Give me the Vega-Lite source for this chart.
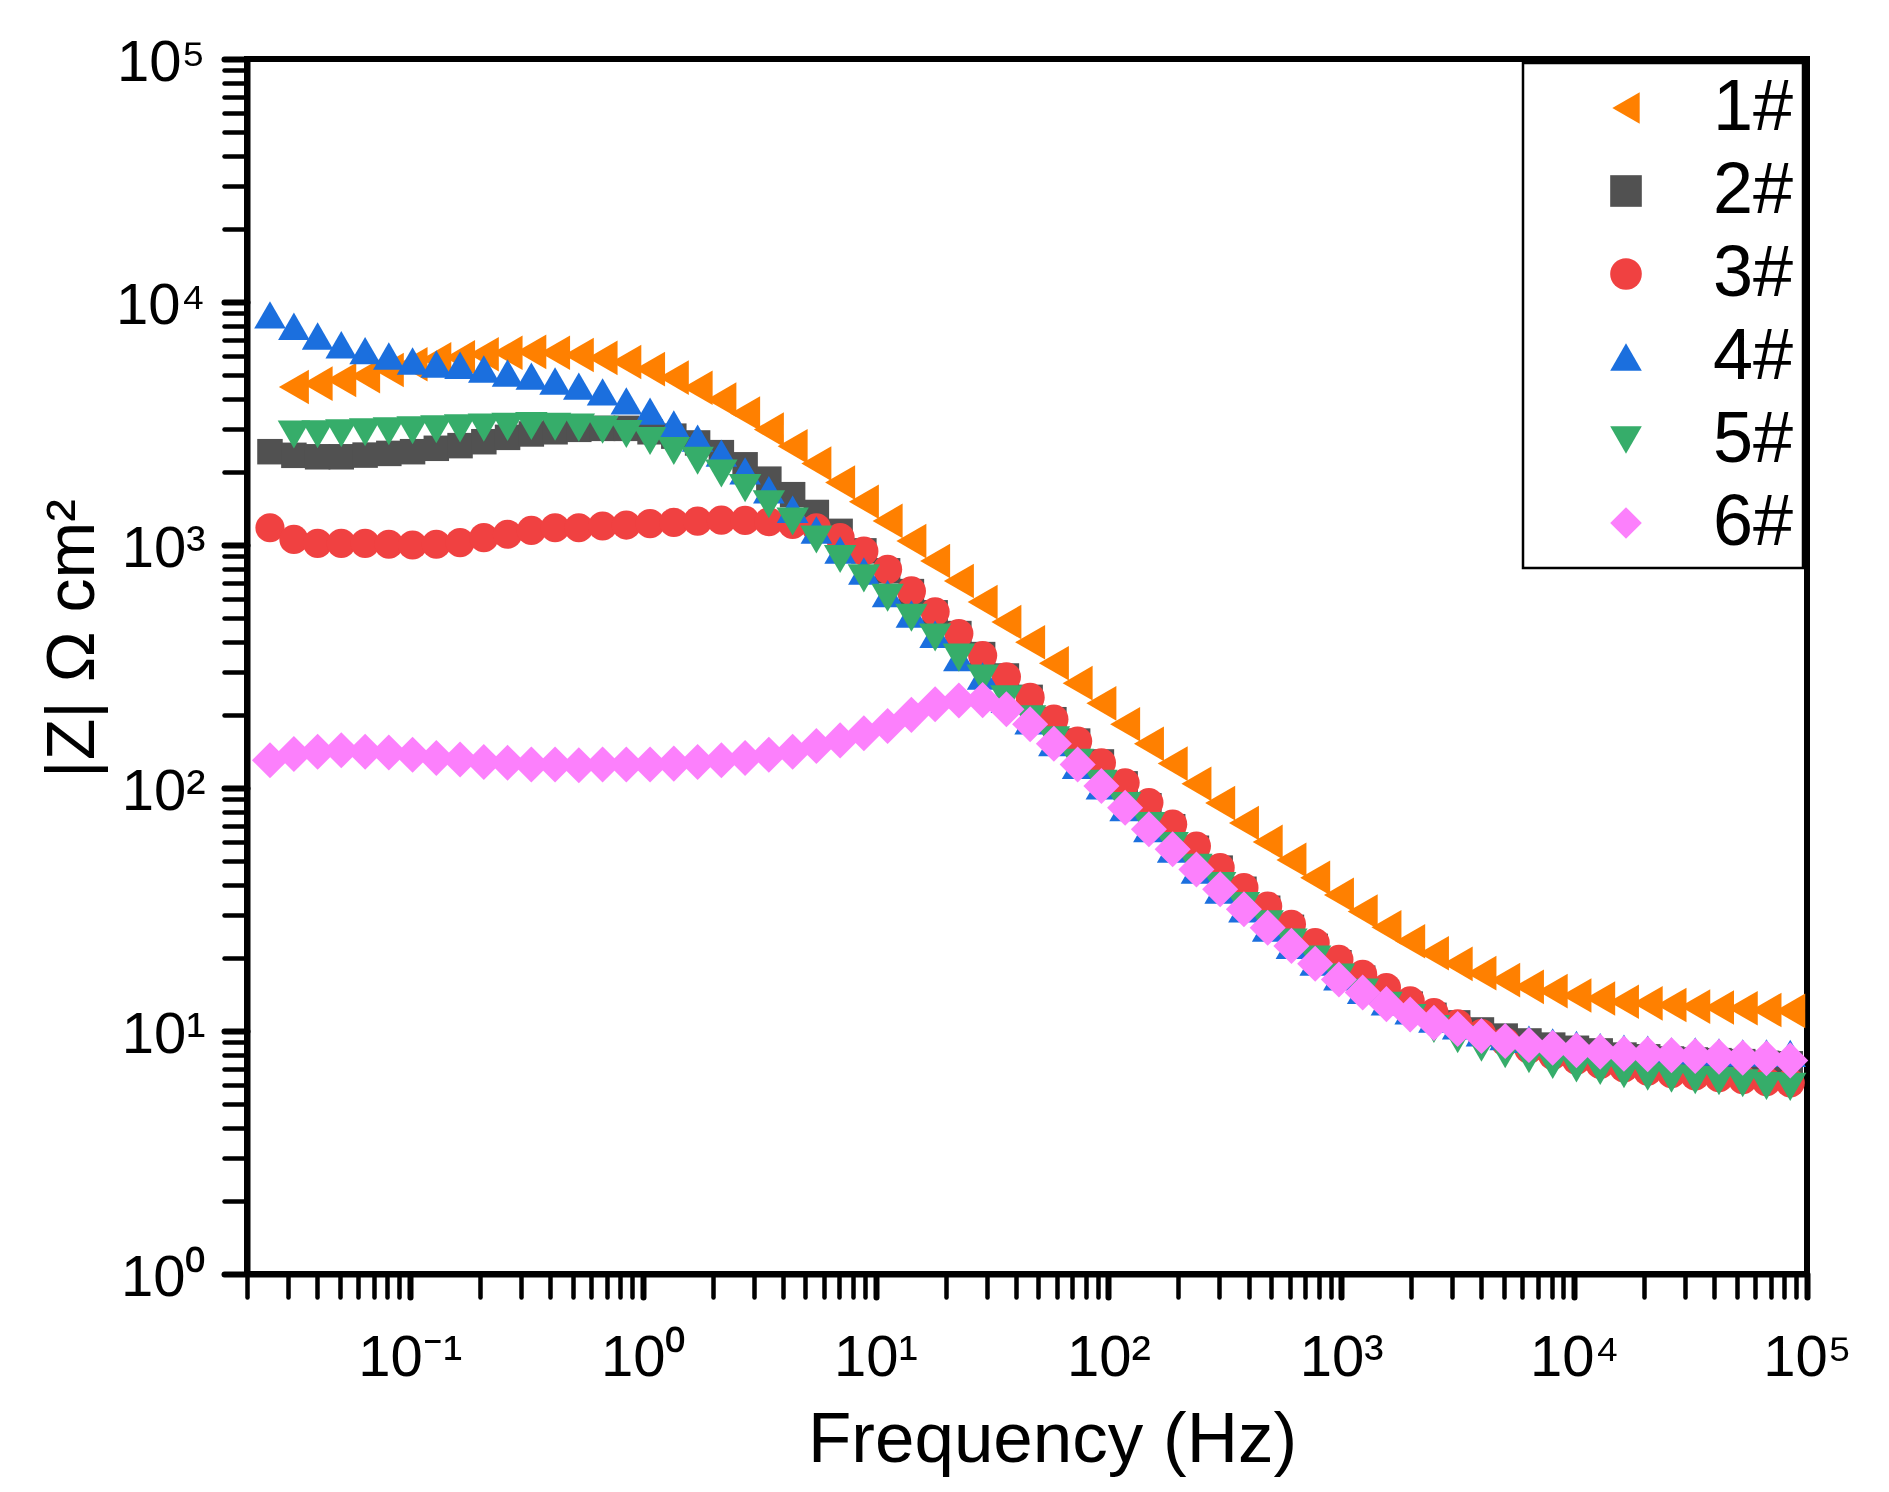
{
  "$schema": "https://vega.github.io/schema/vega-lite/v6.json",
  "width": 1560,
  "height": 1215,
  "autosize": {"type": "none"},
  "padding": {"left": 247, "top": 59, "right": 82, "bottom": 218},
  "background": "white",
  "config": {
    "font": "Liberation Sans",
    "view": {"stroke": "black", "strokeWidth": 6},
    "axis": {
      "grid": false,
      "domainColor": "black",
      "domainWidth": 6,
      "tickColor": "black",
      "tickCap": "round",
      "labelColor": "black",
      "titleColor": "black",
      "labelFont": "Liberation Sans",
      "titleFont": "Liberation Sans",
      "titleFontWeight": "normal",
      "labelOverlap": false,
      "labelBound": false,
      "labelFlush": false
    },
    "legend": {"strokeWidth": 2.5}
  },
  "data": {
    "values": [
      {"f":0.0318,"z":4467,"s":"1#"},{"f":0.0402,"z":4613,"s":"1#"},{"f":0.0508,"z":4775,"s":"1#"},{"f":0.0643,"z":4955,"s":"1#"},{"f":0.0813,"z":5248,"s":"1#"},{"f":0.1028,"z":5546,"s":"1#"},{"f":0.130,"z":5808,"s":"1#"},{"f":0.1644,"z":5916,"s":"1#"},{"f":0.208,"z":6095,"s":"1#"},{"f":0.263,"z":6180,"s":"1#"},{"f":0.3327,"z":6237,"s":"1#"},{"f":0.4207,"z":6180,"s":"1#"},{"f":0.532,"z":6053,"s":"1#"},{"f":0.673,"z":5888,"s":"1#"},{"f":0.851,"z":5662,"s":"1#"},{"f":1.076,"z":5297,"s":"1#"},{"f":1.361,"z":4887,"s":"1#"},{"f":1.722,"z":4436,"s":"1#"},{"f":2.178,"z":3963,"s":"1#"},{"f":2.754,"z":3475,"s":"1#"},{"f":3.483,"z":2985,"s":"1#"},{"f":4.406,"z":2547,"s":"1#"},{"f":5.572,"z":2163,"s":"1#"},{"f":7.047,"z":1807,"s":"1#"},{"f":8.913,"z":1507,"s":"1#"},{"f":11.27,"z":1256,"s":"1#"},{"f":14.26,"z":1038,"s":"1#"},{"f":18.03,"z":859,"s":"1#"},{"f":22.8,"z":711,"s":"1#"},{"f":28.84,"z":582,"s":"1#"},{"f":36.48,"z":482,"s":"1#"},{"f":46.13,"z":398,"s":"1#"},{"f":58.34,"z":326,"s":"1#"},{"f":73.79,"z":270,"s":"1#"},{"f":93.33,"z":223,"s":"1#"},{"f":118,"z":183,"s":"1#"},{"f":149.3,"z":152,"s":"1#"},{"f":188.8,"z":126,"s":"1#"},{"f":238.8,"z":104,"s":"1#"},{"f":302,"z":86.7,"s":"1#"},{"f":382,"z":71.8,"s":"1#"},{"f":483.1,"z":60.0,"s":"1#"},{"f":611,"z":50.6,"s":"1#"},{"f":772.7,"z":42.7,"s":"1#"},{"f":977.2,"z":36.3,"s":"1#"},{"f":1236,"z":31.0,"s":"1#"},{"f":1563,"z":26.7,"s":"1#"},{"f":1977,"z":23.4,"s":"1#"},{"f":2500,"z":20.9,"s":"1#"},{"f":3162,"z":18.9,"s":"1#"},{"f":3999,"z":17.3,"s":"1#"},{"f":5058,"z":16.2,"s":"1#"},{"f":6397,"z":15.2,"s":"1#"},{"f":8091,"z":14.6,"s":"1#"},{"f":10233,"z":14.0,"s":"1#"},{"f":12942,"z":13.6,"s":"1#"},{"f":16368,"z":13.2,"s":"1#"},{"f":20701,"z":13.0,"s":"1#"},{"f":26182,"z":12.8,"s":"1#"},{"f":33113,"z":12.6,"s":"1#"},{"f":41879,"z":12.5,"s":"1#"},{"f":52966,"z":12.4,"s":"1#"},{"f":66988,"z":12.2,"s":"1#"},{"f":84723,"z":12.1,"s":"1#"},
      {"f":0.0251,"z":2421,"s":"2#"},{"f":0.0318,"z":2339,"s":"2#"},{"f":0.0402,"z":2307,"s":"2#"},{"f":0.0508,"z":2307,"s":"2#"},{"f":0.0643,"z":2344,"s":"2#"},{"f":0.0813,"z":2382,"s":"2#"},{"f":0.1028,"z":2421,"s":"2#"},{"f":0.130,"z":2500,"s":"2#"},{"f":0.1644,"z":2564,"s":"2#"},{"f":0.208,"z":2661,"s":"2#"},{"f":0.263,"z":2773,"s":"2#"},{"f":0.3327,"z":2864,"s":"2#"},{"f":0.4207,"z":2924,"s":"2#"},{"f":0.532,"z":2992,"s":"2#"},{"f":0.673,"z":3020,"s":"2#"},{"f":0.851,"z":3020,"s":"2#"},{"f":1.076,"z":2924,"s":"2#"},{"f":1.361,"z":2805,"s":"2#"},{"f":1.722,"z":2630,"s":"2#"},{"f":2.178,"z":2399,"s":"2#"},{"f":2.754,"z":2138,"s":"2#"},{"f":3.483,"z":1866,"s":"2#"},{"f":4.406,"z":1611,"s":"2#"},{"f":5.572,"z":1361,"s":"2#"},{"f":7.047,"z":1138,"s":"2#"},{"f":8.913,"z":946,"s":"2#"},{"f":11.27,"z":783,"s":"2#"},{"f":14.26,"z":643,"s":"2#"},{"f":18.03,"z":526,"s":"2#"},{"f":22.8,"z":432,"s":"2#"},{"f":28.84,"z":354,"s":"2#"},{"f":36.48,"z":289,"s":"2#"},{"f":46.13,"z":236,"s":"2#"},{"f":58.34,"z":191,"s":"2#"},{"f":73.79,"z":156,"s":"2#"},{"f":93.33,"z":128,"s":"2#"},{"f":118,"z":104,"s":"2#"},{"f":149.3,"z":84.5,"s":"2#"},{"f":188.8,"z":69.3,"s":"2#"},{"f":238.8,"z":56.5,"s":"2#"},{"f":302,"z":46.8,"s":"2#"},{"f":382,"z":38.3,"s":"2#"},{"f":483.1,"z":32.0,"s":"2#"},{"f":611,"z":26.7,"s":"2#"},{"f":772.7,"z":22.3,"s":"2#"},{"f":977.2,"z":19.1,"s":"2#"},{"f":1236,"z":16.5,"s":"2#"},{"f":1563,"z":14.4,"s":"2#"},{"f":1977,"z":12.9,"s":"2#"},{"f":2500,"z":11.6,"s":"2#"},{"f":3162,"z":10.8,"s":"2#"},{"f":3999,"z":10.1,"s":"2#"},{"f":5058,"z":9.53,"s":"2#"},{"f":6397,"z":9.10,"s":"2#"},{"f":8091,"z":8.75,"s":"2#"},{"f":10233,"z":8.49,"s":"2#"},{"f":12942,"z":8.28,"s":"2#"},{"f":16368,"z":7.96,"s":"2#"},{"f":20701,"z":7.83,"s":"2#"},{"f":26182,"z":7.67,"s":"2#"},{"f":33113,"z":7.60,"s":"2#"},{"f":41879,"z":7.55,"s":"2#"},{"f":52966,"z":7.48,"s":"2#"},{"f":66988,"z":7.36,"s":"2#"},{"f":84723,"z":7.33,"s":"2#"},
      {"f":0.0251,"z":1178,"s":"3#"},{"f":0.0318,"z":1054,"s":"3#"},{"f":0.0402,"z":1016,"s":"3#"},{"f":0.0508,"z":1016,"s":"3#"},{"f":0.0643,"z":1016,"s":"3#"},{"f":0.0813,"z":1007,"s":"3#"},{"f":0.1028,"z":1000,"s":"3#"},{"f":0.130,"z":1007,"s":"3#"},{"f":0.1644,"z":1023,"s":"3#"},{"f":0.208,"z":1072,"s":"3#"},{"f":0.263,"z":1107,"s":"3#"},{"f":0.3327,"z":1148,"s":"3#"},{"f":0.4207,"z":1178,"s":"3#"},{"f":0.532,"z":1178,"s":"3#"},{"f":0.673,"z":1197,"s":"3#"},{"f":0.851,"z":1208,"s":"3#"},{"f":1.076,"z":1225,"s":"3#"},{"f":1.361,"z":1239,"s":"3#"},{"f":1.722,"z":1253,"s":"3#"},{"f":2.178,"z":1265,"s":"3#"},{"f":2.754,"z":1262,"s":"3#"},{"f":3.483,"z":1247,"s":"3#"},{"f":4.406,"z":1216,"s":"3#"},{"f":5.572,"z":1178,"s":"3#"},{"f":7.047,"z":1072,"s":"3#"},{"f":8.913,"z":944,"s":"3#"},{"f":11.27,"z":794,"s":"3#"},{"f":14.26,"z":647,"s":"3#"},{"f":18.03,"z":531,"s":"3#"},{"f":22.8,"z":432,"s":"3#"},{"f":28.84,"z":351,"s":"3#"},{"f":36.48,"z":287,"s":"3#"},{"f":46.13,"z":236,"s":"3#"},{"f":58.34,"z":192,"s":"3#"},{"f":73.79,"z":156,"s":"3#"},{"f":93.33,"z":127,"s":"3#"},{"f":118,"z":105,"s":"3#"},{"f":149.3,"z":87.1,"s":"3#"},{"f":188.8,"z":71.0,"s":"3#"},{"f":238.8,"z":57.7,"s":"3#"},{"f":302,"z":47.0,"s":"3#"},{"f":382,"z":38.9,"s":"3#"},{"f":483.1,"z":32.7,"s":"3#"},{"f":611,"z":27.5,"s":"3#"},{"f":772.7,"z":23.1,"s":"3#"},{"f":977.2,"z":19.7,"s":"3#"},{"f":1236,"z":17.1,"s":"3#"},{"f":1563,"z":15.1,"s":"3#"},{"f":1977,"z":13.3,"s":"3#"},{"f":2500,"z":11.9,"s":"3#"},{"f":3162,"z":10.7,"s":"3#"},{"f":3999,"z":9.77,"s":"3#"},{"f":5058,"z":9.02,"s":"3#"},{"f":6397,"z":8.41,"s":"3#"},{"f":8091,"z":7.94,"s":"3#"},{"f":10233,"z":7.59,"s":"3#"},{"f":12942,"z":7.28,"s":"3#"},{"f":16368,"z":7.05,"s":"3#"},{"f":20701,"z":6.84,"s":"3#"},{"f":26182,"z":6.68,"s":"3#"},{"f":33113,"z":6.53,"s":"3#"},{"f":41879,"z":6.43,"s":"3#"},{"f":52966,"z":6.31,"s":"3#"},{"f":66988,"z":6.19,"s":"3#"},{"f":84723,"z":6.12,"s":"3#"},
      {"f":0.0251,"z":8851,"s":"4#"},{"f":0.0318,"z":7943,"s":"4#"},{"f":0.0402,"z":7244,"s":"4#"},{"f":0.0508,"z":6668,"s":"4#"},{"f":0.0643,"z":6310,"s":"4#"},{"f":0.0813,"z":5998,"s":"4#"},{"f":0.1028,"z":5715,"s":"4#"},{"f":0.130,"z":5559,"s":"4#"},{"f":0.1644,"z":5495,"s":"4#"},{"f":0.208,"z":5297,"s":"4#"},{"f":0.263,"z":5105,"s":"4#"},{"f":0.3327,"z":4955,"s":"4#"},{"f":0.4207,"z":4732,"s":"4#"},{"f":0.532,"z":4508,"s":"4#"},{"f":0.673,"z":4266,"s":"4#"},{"f":0.851,"z":3917,"s":"4#"},{"f":1.076,"z":3556,"s":"4#"},{"f":1.361,"z":3148,"s":"4#"},{"f":1.722,"z":2754,"s":"4#"},{"f":2.178,"z":2388,"s":"4#"},{"f":2.754,"z":2018,"s":"4#"},{"f":3.483,"z":1687,"s":"4#"},{"f":4.406,"z":1403,"s":"4#"},{"f":5.572,"z":1153,"s":"4#"},{"f":7.047,"z":953,"s":"4#"},{"f":8.913,"z":782,"s":"4#"},{"f":11.27,"z":631,"s":"4#"},{"f":14.26,"z":520,"s":"4#"},{"f":18.03,"z":429,"s":"4#"},{"f":22.8,"z":344,"s":"4#"},{"f":28.84,"z":289,"s":"4#"},{"f":36.48,"z":232,"s":"4#"},{"f":46.13,"z":189,"s":"4#"},{"f":58.34,"z":154,"s":"4#"},{"f":73.79,"z":124,"s":"4#"},{"f":93.33,"z":102,"s":"4#"},{"f":118,"z":83.0,"s":"4#"},{"f":149.3,"z":68.1,"s":"4#"},{"f":188.8,"z":56.1,"s":"4#"},{"f":238.8,"z":45.9,"s":"4#"},{"f":302,"z":38.0,"s":"4#"},{"f":382,"z":31.8,"s":"4#"},{"f":483.1,"z":26.5,"s":"4#"},{"f":611,"z":22.5,"s":"4#"},{"f":772.7,"z":19.2,"s":"4#"},{"f":977.2,"z":16.7,"s":"4#"},{"f":1236,"z":14.7,"s":"4#"},{"f":1563,"z":13.2,"s":"4#"},{"f":1977,"z":12.1,"s":"4#"},{"f":2500,"z":11.2,"s":"4#"},{"f":3162,"z":10.5,"s":"4#"},{"f":3999,"z":9.84,"s":"4#"},{"f":5058,"z":9.48,"s":"4#"},{"f":6397,"z":9.25,"s":"4#"},{"f":8091,"z":9.02,"s":"4#"},{"f":10233,"z":8.81,"s":"4#"},{"f":12942,"z":8.61,"s":"4#"},{"f":16368,"z":8.49,"s":"4#"},{"f":20701,"z":8.41,"s":"4#"},{"f":26182,"z":8.28,"s":"4#"},{"f":33113,"z":8.28,"s":"4#"},{"f":41879,"z":8.20,"s":"4#"},{"f":52966,"z":8.13,"s":"4#"},{"f":66988,"z":8.13,"s":"4#"},{"f":84723,"z":8.09,"s":"4#"},
      {"f":0.0318,"z":2851,"s":"5#"},{"f":0.0402,"z":2858,"s":"5#"},{"f":0.0508,"z":2884,"s":"5#"},{"f":0.0643,"z":2911,"s":"5#"},{"f":0.0813,"z":2938,"s":"5#"},{"f":0.1028,"z":2965,"s":"5#"},{"f":0.130,"z":2992,"s":"5#"},{"f":0.1644,"z":3020,"s":"5#"},{"f":0.208,"z":3041,"s":"5#"},{"f":0.263,"z":3062,"s":"5#"},{"f":0.3327,"z":3090,"s":"5#"},{"f":0.4207,"z":3069,"s":"5#"},{"f":0.532,"z":3041,"s":"5#"},{"f":0.673,"z":2979,"s":"5#"},{"f":0.851,"z":2864,"s":"5#"},{"f":1.076,"z":2679,"s":"5#"},{"f":1.361,"z":2438,"s":"5#"},{"f":1.722,"z":2223,"s":"5#"},{"f":2.178,"z":1968,"s":"5#"},{"f":2.754,"z":1714,"s":"5#"},{"f":3.483,"z":1472,"s":"5#"},{"f":4.406,"z":1250,"s":"5#"},{"f":5.572,"z":1054,"s":"5#"},{"f":7.047,"z":875,"s":"5#"},{"f":8.913,"z":729,"s":"5#"},{"f":11.27,"z":607,"s":"5#"},{"f":14.26,"z":502,"s":"5#"},{"f":18.03,"z":416,"s":"5#"},{"f":22.8,"z":344,"s":"5#"},{"f":28.84,"z":282,"s":"5#"},{"f":36.48,"z":232,"s":"5#"},{"f":46.13,"z":192,"s":"5#"},{"f":58.34,"z":157,"s":"5#"},{"f":73.79,"z":127,"s":"5#"},{"f":93.33,"z":104,"s":"5#"},{"f":118,"z":84.3,"s":"5#"},{"f":149.3,"z":69.8,"s":"5#"},{"f":188.8,"z":57.7,"s":"5#"},{"f":238.8,"z":47.0,"s":"5#"},{"f":302,"z":39.5,"s":"5#"},{"f":382,"z":32.7,"s":"5#"},{"f":483.1,"z":27.5,"s":"5#"},{"f":611,"z":23.1,"s":"5#"},{"f":772.7,"z":19.7,"s":"5#"},{"f":977.2,"z":16.6,"s":"5#"},{"f":1236,"z":14.4,"s":"5#"},{"f":1563,"z":12.7,"s":"5#"},{"f":1977,"z":11.3,"s":"5#"},{"f":2500,"z":10.2,"s":"5#"},{"f":3162,"z":9.25,"s":"5#"},{"f":3999,"z":8.53,"s":"5#"},{"f":5058,"z":8.02,"s":"5#"},{"f":6397,"z":7.66,"s":"5#"},{"f":8091,"z":7.24,"s":"5#"},{"f":10233,"z":7.01,"s":"5#"},{"f":12942,"z":6.84,"s":"5#"},{"f":16368,"z":6.64,"s":"5#"},{"f":20701,"z":6.49,"s":"5#"},{"f":26182,"z":6.37,"s":"5#"},{"f":33113,"z":6.28,"s":"5#"},{"f":41879,"z":6.22,"s":"5#"},{"f":52966,"z":6.10,"s":"5#"},{"f":66988,"z":5.94,"s":"5#"},{"f":84723,"z":5.89,"s":"5#"},
      {"f":0.0251,"z":130,"s":"6#"},{"f":0.0318,"z":138,"s":"6#"},{"f":0.0402,"z":141,"s":"6#"},{"f":0.0508,"z":143,"s":"6#"},{"f":0.0643,"z":141,"s":"6#"},{"f":0.0813,"z":140,"s":"6#"},{"f":0.1028,"z":137,"s":"6#"},{"f":0.130,"z":133,"s":"6#"},{"f":0.1644,"z":131,"s":"6#"},{"f":0.208,"z":128,"s":"6#"},{"f":0.263,"z":127,"s":"6#"},{"f":0.3327,"z":125,"s":"6#"},{"f":0.4207,"z":125,"s":"6#"},{"f":0.532,"z":124,"s":"6#"},{"f":0.673,"z":125,"s":"6#"},{"f":0.851,"z":125,"s":"6#"},{"f":1.076,"z":125,"s":"6#"},{"f":1.361,"z":126,"s":"6#"},{"f":1.722,"z":128,"s":"6#"},{"f":2.178,"z":130,"s":"6#"},{"f":2.754,"z":133,"s":"6#"},{"f":3.483,"z":137,"s":"6#"},{"f":4.406,"z":141,"s":"6#"},{"f":5.572,"z":149,"s":"6#"},{"f":7.047,"z":157,"s":"6#"},{"f":8.913,"z":168,"s":"6#"},{"f":11.27,"z":180,"s":"6#"},{"f":14.26,"z":200,"s":"6#"},{"f":18.03,"z":221,"s":"6#"},{"f":22.8,"z":229,"s":"6#"},{"f":28.84,"z":230,"s":"6#"},{"f":36.48,"z":211,"s":"6#"},{"f":46.13,"z":183,"s":"6#"},{"f":58.34,"z":152,"s":"6#"},{"f":73.79,"z":125,"s":"6#"},{"f":93.33,"z":102,"s":"6#"},{"f":118,"z":83.0,"s":"6#"},{"f":149.3,"z":67.6,"s":"6#"},{"f":188.8,"z":56.0,"s":"6#"},{"f":238.8,"z":46.2,"s":"6#"},{"f":302,"z":38.3,"s":"6#"},{"f":382,"z":31.7,"s":"6#"},{"f":483.1,"z":26.6,"s":"6#"},{"f":611,"z":22.4,"s":"6#"},{"f":772.7,"z":18.9,"s":"6#"},{"f":977.2,"z":16.3,"s":"6#"},{"f":1236,"z":14.4,"s":"6#"},{"f":1563,"z":12.9,"s":"6#"},{"f":1977,"z":11.7,"s":"6#"},{"f":2500,"z":10.8,"s":"6#"},{"f":3162,"z":10.2,"s":"6#"},{"f":3999,"z":9.53,"s":"6#"},{"f":5058,"z":9.10,"s":"6#"},{"f":6397,"z":8.75,"s":"6#"},{"f":8091,"z":8.53,"s":"6#"},{"f":10233,"z":8.34,"s":"6#"},{"f":12942,"z":8.22,"s":"6#"},{"f":16368,"z":8.07,"s":"6#"},{"f":20701,"z":8.02,"s":"6#"},{"f":26182,"z":7.94,"s":"6#"},{"f":33113,"z":7.89,"s":"6#"},{"f":41879,"z":7.83,"s":"6#"},{"f":52966,"z":7.76,"s":"6#"},{"f":66988,"z":7.73,"s":"6#"},{"f":84723,"z":7.57,"s":"6#"}
    ]
  },
  "encoding": {
    "x": {
      "field": "f",
      "type": "quantitative",
      "scale": {"type": "log", "domain": [0.02, 100000], "nice": false},
      "axis": {
        "title": "Frequency (Hz)",
        "titleFontSize": 71,
        "titleX": 805,
        "titleY": 187,
        "titleBaseline": "alphabetic",
        "values": [0.02,0.03,0.04,0.05,0.06,0.07,0.08,0.09,0.1,0.2,0.3,0.4,0.5,0.6,0.7,0.8,0.9,1,2,3,4,5,6,7,8,9,10,20,30,40,50,60,70,80,90,100,200,300,400,500,600,700,800,900,1000,2000,3000,4000,5000,6000,7000,8000,9000,10000,20000,30000,40000,50000,60000,70000,80000,90000,100000],
        "tickSize": 23,
        "labelFontSize": 58,
        "labelPadding": 78,
        "labelBaseline": "alphabetic",
        "labelExpr": "abs(log(datum.value)/LN10 - round(log(datum.value)/LN10)) < 0.001 ? '10' + ['⁻¹','⁰','¹','²','³','⁴','⁵'][round(log(datum.value)/LN10) + 1] : ''",
        "tickWidth": {"condition": {"test": "abs(log(datum.value)/LN10 - round(log(datum.value)/LN10)) < 0.001", "value": 6}, "value": 4.5},
        "encode": {
          "ticks": {
            "y2": {"condition": {"test": "abs(log(datum.value)/LN10 - round(log(datum.value)/LN10)) < 0.001", "value": 23}, "value": 12}
          }
        }
      }
    },
    "y": {
      "field": "z",
      "type": "quantitative",
      "scale": {"type": "log", "domain": [1, 100000], "nice": false},
      "axis": {
        "title": "|Z| Ω cm²",
        "titleFontSize": 68,
        "titleX": -154,
        "titleY": 579,
        "titleBaseline": "alphabetic",
        "values": [1,2,3,4,5,6,7,8,9,10,20,30,40,50,60,70,80,90,100,200,300,400,500,600,700,800,900,1000,2000,3000,4000,5000,6000,7000,8000,9000,10000,20000,30000,40000,50000,60000,70000,80000,90000,100000],
        "tickSize": 23,
        "labelFontSize": 58,
        "labelPadding": 19,
        "labelBaseline": "alphabetic",
        "labelOffset": 21,
        "labelExpr": "abs(log(datum.value)/LN10 - round(log(datum.value)/LN10)) < 0.001 ? '10' + ['⁰','¹','²','³','⁴','⁵'][round(log(datum.value)/LN10)] : ''",
        "tickWidth": {"condition": {"test": "abs(log(datum.value)/LN10 - round(log(datum.value)/LN10)) < 0.001", "value": 6}, "value": 4.5},
        "encode": {
          "ticks": {
            "x2": {"condition": {"test": "abs(log(datum.value)/LN10 - round(log(datum.value)/LN10)) < 0.001", "value": -23}, "value": -12}
          }
        }
      }
    },
    "color": {
      "field": "s",
      "type": "nominal",
      "scale": {
        "domain": ["1#", "2#", "3#", "4#", "5#", "6#"],
        "range": ["#FF8000", "#515151", "#F04141", "#1B6FDE", "#36AD6A", "#FC80FC"]
      },
      "legend": {
        "title": null,
        "orient": "none",
        "legendX": 1276,
        "legendY": 4,
        "padding": 9,
        "rowPadding": 11,
        "labelFontSize": 72,
        "labelFont": "Liberation Sans",
        "labelColor": "black",
        "symbolSize": 1000,
        "symbolOffset": 58,
        "labelOffset": 51,
        "strokeColor": "black",
        "fillColor": "white",
        "symbolStrokeWidth": 0,
        "symbolOpacity": 1
      }
    },
    "shape": {
      "field": "s",
      "type": "nominal",
      "scale": {
        "domain": ["1#", "2#", "3#", "4#", "5#", "6#"],
        "range": ["triangle-left", "square", "circle", "triangle-up", "triangle-down", "diamond"]
      }
    }
  },
  "layer": [
    {"transform": [{"filter": "datum.s == '1#'"}], "mark": {"type": "point", "filled": true, "opacity": 1, "strokeWidth": 0, "size": 1200}},
    {"transform": [{"filter": "datum.s == '2#'"}], "mark": {"type": "point", "filled": true, "opacity": 1, "strokeWidth": 0, "size": 650}},
    {"transform": [{"filter": "datum.s == '3#'"}], "mark": {"type": "point", "filled": true, "opacity": 1, "strokeWidth": 0, "size": 850}},
    {"transform": [{"filter": "datum.s == '4#'"}], "mark": {"type": "point", "filled": true, "opacity": 1, "strokeWidth": 0, "size": 1000}},
    {"transform": [{"filter": "datum.s == '5#'"}], "mark": {"type": "point", "filled": true, "opacity": 1, "strokeWidth": 0, "size": 1050}},
    {"transform": [{"filter": "datum.s == '6#'"}], "mark": {"type": "point", "filled": true, "opacity": 1, "strokeWidth": 0, "size": 1300}}
  ]
}
